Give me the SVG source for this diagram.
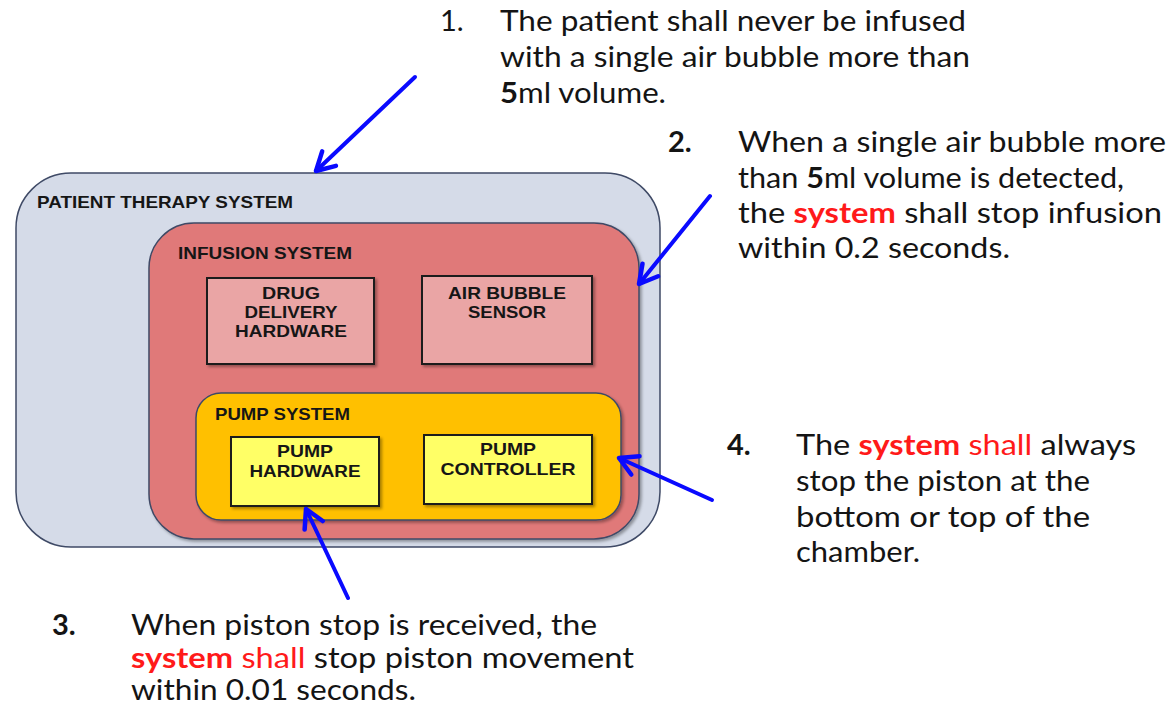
<svg xmlns="http://www.w3.org/2000/svg" width="1176" height="705" viewBox="0 0 1176 705">
  <style>
    .sys { stroke: #3f4a66; stroke-width: 1.5; }
    .blk { stroke: #1c1c1c; stroke-width: 2; }
    .lbl { font-family: "Liberation Sans", Arial, sans-serif; font-weight: bold; font-size: 16.5px; fill: #161616; }
    .mid { text-anchor: middle; }
    .req { font-family: Lato, "Open Sans", sans-serif; font-size: 29px; fill: #141414; }
    .num { font-weight: bold; }
    .b { font-weight: bold; }
    .red { fill: #ff1a1a; }
    .arrow { fill: none; stroke: #0a0aff; stroke-width: 4; stroke-linecap: round; }
  </style>
  <defs>
    <filter id="shadow" x="-10%" y="-10%" width="125%" height="125%">
      <feDropShadow dx="2" dy="2" stdDeviation="1.5" flood-color="#000" flood-opacity="0.35"/>
    </filter>
    <marker id="chev" markerUnits="userSpaceOnUse" viewBox="-22 -14 26 28" refX="0" refY="0" markerWidth="26" markerHeight="28" orient="auto" overflow="visible">
      <path d="M-18,-10 L0,0 L-18,10" fill="none" stroke="#0a0aff" stroke-width="4.5" stroke-linecap="round" stroke-linejoin="round"/>
    </marker>
  </defs>

  <rect width="1176" height="705" fill="#ffffff"/>

  <!-- nested system containers -->
  <g id="patient-therapy-system">
    <rect class="sys" x="16" y="173" width="644" height="374" rx="55" fill="#d5dbe8"/>
    <text class="lbl" x="37" y="208" textLength="256" lengthAdjust="spacingAndGlyphs">PATIENT THERAPY SYSTEM</text>
  </g>

  <g id="infusion-system">
    <rect class="sys" x="149" y="223" width="490" height="316" rx="45" fill="#e07979" filter="url(#shadow)"/>
    <text class="lbl" x="178" y="259" textLength="174" lengthAdjust="spacingAndGlyphs">INFUSION SYSTEM</text>
  </g>

  <g id="drug-delivery-hardware">
    <rect class="blk" x="207" y="278" width="167" height="86" fill="#eaa5a5" filter="url(#shadow)"/>
    <text class="lbl mid" x="291" y="299" textLength="58" lengthAdjust="spacingAndGlyphs">DRUG</text>
    <text class="lbl mid" x="291" y="318" textLength="93" lengthAdjust="spacingAndGlyphs">DELIVERY</text>
    <text class="lbl mid" x="291" y="337" textLength="112" lengthAdjust="spacingAndGlyphs">HARDWARE</text>
  </g>

  <g id="air-bubble-sensor">
    <rect class="blk" x="422" y="276" width="170" height="88" fill="#eaa5a5" filter="url(#shadow)"/>
    <text class="lbl mid" x="507" y="299" textLength="118" lengthAdjust="spacingAndGlyphs">AIR BUBBLE</text>
    <text class="lbl mid" x="507" y="318" textLength="78" lengthAdjust="spacingAndGlyphs">SENSOR</text>
  </g>

  <g id="pump-system">
    <rect class="sys" x="196" y="393" width="425" height="127" rx="25" fill="#ffc000" filter="url(#shadow)"/>
    <text class="lbl" x="215" y="420" textLength="135" lengthAdjust="spacingAndGlyphs">PUMP SYSTEM</text>
  </g>

  <g id="pump-hardware">
    <rect class="blk" x="231" y="437" width="148" height="69" fill="#ffff66" filter="url(#shadow)"/>
    <text class="lbl mid" x="305" y="457" textLength="56" lengthAdjust="spacingAndGlyphs">PUMP</text>
    <text class="lbl mid" x="305" y="477" textLength="111" lengthAdjust="spacingAndGlyphs">HARDWARE</text>
  </g>

  <g id="pump-controller">
    <rect class="blk" x="424" y="435" width="168" height="69" fill="#ffff66" filter="url(#shadow)"/>
    <text class="lbl mid" x="508" y="455" textLength="56" lengthAdjust="spacingAndGlyphs">PUMP</text>
    <text class="lbl mid" x="508" y="475" textLength="135" lengthAdjust="spacingAndGlyphs">CONTROLLER</text>
  </g>

  <!-- requirement call-outs -->
  <g id="req-1" class="req">
    <text x="440" y="31">1.</text>
    <text x="500" y="31" textLength="466" lengthAdjust="spacingAndGlyphs">The patient shall never be infused</text>
    <text x="500" y="67" textLength="470" lengthAdjust="spacingAndGlyphs">with a single air bubble more than</text>
    <text x="500" y="103" textLength="166" lengthAdjust="spacingAndGlyphs"><tspan class="b">5</tspan>ml volume.</text>
  </g>

  <g id="req-2" class="req">
    <text class="num" x="668" y="152">2.</text>
    <text x="738" y="152" textLength="428" lengthAdjust="spacingAndGlyphs">When a single air bubble more</text>
    <text x="738" y="188" textLength="386" lengthAdjust="spacingAndGlyphs">than <tspan class="b">5</tspan>ml volume is detected,</text>
    <text x="738" y="223" textLength="424" lengthAdjust="spacingAndGlyphs">the <tspan class="b red">system</tspan> shall stop infusion</text>
    <text x="738" y="258" textLength="272" lengthAdjust="spacingAndGlyphs">within 0.2 seconds.</text>
  </g>

  <g id="req-3" class="req">
    <text class="num" x="52" y="635">3.</text>
    <text x="131" y="635" textLength="466" lengthAdjust="spacingAndGlyphs">When piston stop is received, the</text>
    <text x="131" y="668" textLength="503" lengthAdjust="spacingAndGlyphs"><tspan class="b red">system</tspan> <tspan class="red">shall</tspan> stop piston movement</text>
    <text x="131" y="700" textLength="285" lengthAdjust="spacingAndGlyphs">within 0.01 seconds.</text>
  </g>

  <g id="req-4" class="req">
    <text class="num" x="727" y="455">4.</text>
    <text x="796" y="455" textLength="340" lengthAdjust="spacingAndGlyphs">The <tspan class="b red">system</tspan> <tspan class="red">shall</tspan> always</text>
    <text x="796" y="491" textLength="294" lengthAdjust="spacingAndGlyphs">stop the piston at the</text>
    <text x="796" y="527" textLength="294" lengthAdjust="spacingAndGlyphs">bottom or top of the</text>
    <text x="796" y="562" textLength="124" lengthAdjust="spacingAndGlyphs">chamber.</text>
  </g>

  <!-- pointers from requirements to the systems they constrain -->
  <g id="connectors">
    <line class="arrow" x1="415" y1="77" x2="316" y2="171" marker-end="url(#chev)"/>
    <line class="arrow" x1="710" y1="196" x2="639" y2="284" marker-end="url(#chev)"/>
    <line class="arrow" x1="348" y1="598" x2="306" y2="509" marker-end="url(#chev)"/>
    <line class="arrow" x1="712" y1="500" x2="619" y2="458" marker-end="url(#chev)"/>
  </g>
</svg>
